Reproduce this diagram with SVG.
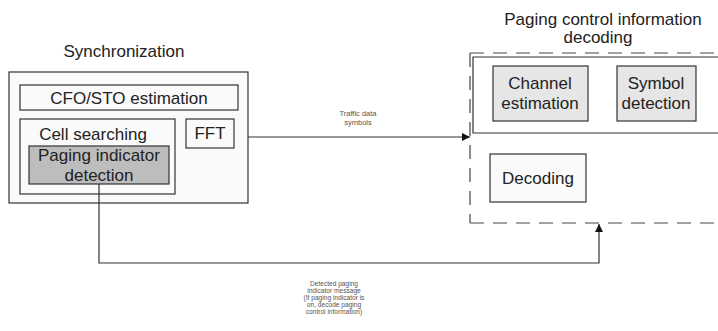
<svg xmlns="http://www.w3.org/2000/svg" width="718" height="331" viewBox="0 0 718 331">
<defs>
<style>
text{font-family:"Liberation Sans",Arial,sans-serif;fill:#222;text-anchor:middle}
.lbl{font-size:17px}
.small{font-size:7.5px;fill:#555}
.tiny{font-size:6.6px;fill:#555}
.box{stroke:#333;stroke-width:1.2;fill:#fafafa}
.light{stroke:#333;stroke-width:1.2;fill:#e6e6e6}
.dark{stroke:#333;stroke-width:1.2;fill:#bdbdbd}
.dash{stroke:#444;stroke-width:1.2;fill:none;stroke-dasharray:14 9}
.conn{stroke:#333;stroke-width:1.2;fill:none}
</style>
<marker id="arr" viewBox="0 0 10 10" refX="10" refY="5" markerWidth="10" markerHeight="8" markerUnits="userSpaceOnUse" orient="auto">
<path d="M0,0 L10,5 L0,10 z" fill="#111"/>
</marker>
</defs>
<rect width="718" height="331" fill="#fff"/>

<g id="sync">
<text class="lbl" x="124" y="57">Synchronization</text>
<rect class="box" x="9" y="72" width="239" height="131"/>
</g>
<g id="cfo">
<rect class="box" x="20" y="85" width="218" height="25"/>
<text class="lbl" x="129" y="104">CFO/STO estimation</text>
</g>
<g id="cell">
<rect class="box" x="20" y="119" width="155" height="75"/>
<text class="lbl" x="93" y="140">Cell searching</text>
</g>
<g id="paging">
<rect class="dark" x="29" y="146" width="140" height="38"/>
<text class="lbl" x="99" y="161">Paging indicator</text>
<text class="lbl" x="99" y="181">detection</text>
</g>
<g id="fft">
<rect class="box" x="186" y="119" width="48" height="29"/>
<text class="lbl" x="210" y="139">FFT</text>
</g>

<g id="pcid">
<text class="lbl" x="603" y="25">Paging control information</text>
<text class="lbl" x="598" y="43">decoding</text>
<path class="dash" d="M470,53 H718 M470,53 V223 M470,223 H718"/>
</g>
<g id="topsection">
<path class="conn" d="M718,57 H473 V133 H718"/>
</g>
<g id="chan">
<rect class="light" x="493" y="66" width="95" height="55"/>
<text class="lbl" x="540" y="89">Channel</text>
<text class="lbl" x="540" y="109">estimation</text>
</g>
<g id="sym">
<rect class="light" x="617" y="66" width="79" height="55"/>
<text class="lbl" x="656" y="89">Symbol</text>
<text class="lbl" x="656" y="109">detection</text>
</g>
<g id="dec">
<rect class="box" x="490" y="154" width="96" height="48"/>
<text class="lbl" x="538" y="184">Decoding</text>
</g>

<g id="connectors">
<path class="conn" d="M248,137 H470" marker-end="url(#arr)"/>
<path class="conn" d="M99,184 V263 H599 V224" marker-end="url(#arr)"/>
</g>
<g id="labels">
<text class="small" x="358" y="116">Traffic data</text>
<text class="small" x="358" y="124.5">symbols</text>
<text class="tiny" x="334" y="286">Detected paging</text>
<text class="tiny" x="334" y="293">indicator message</text>
<text class="tiny" x="334" y="300">(If paging indicator is</text>
<text class="tiny" x="334" y="307">on, decode paging</text>
<text class="tiny" x="334" y="314">control information)</text>
</g>
</svg>
